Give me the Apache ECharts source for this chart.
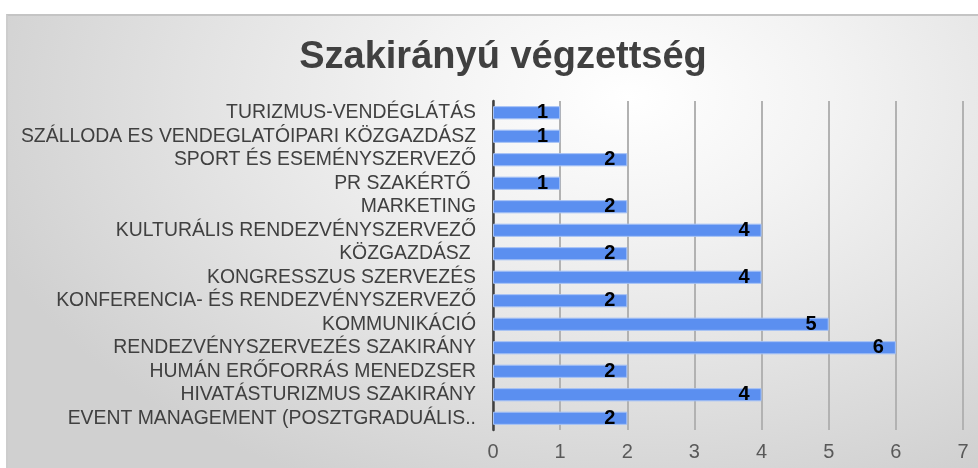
<!DOCTYPE html>
<html>
<head>
<meta charset="utf-8">
<script src="https://cdn.jsdelivr.net/npm/echarts@6/dist/echarts.min.js"></script>
<style>
  html, body { margin: 0; padding: 0; background: #ffffff; }
  #bg {
    position: absolute; left: 6px; top: 14px; width: 970px; height: 452px;
    border-top: 2px solid #c4c4c4; border-left: 2px solid #cdcdcd;
    background: radial-gradient(ellipse 70% 95% at 64% 18%, #ffffff 0%, #f3f3f3 30%, #e2e2e2 65%, #d0d0d0 100%);
  }
  #chart { position: absolute; left: 0; top: 0; width: 978px; height: 468px; }
</style>
</head>
<body>
<div id="bg"></div>
<div id="chart"></div>
<script>
// ==========================================================================
// Data (top to bottom as in the picture)
// ==========================================================================
var titleText = 'Szakirányú végzettség';

var categories = [
    'TURIZMUS-VENDÉGLÁTÁS',
    'SZÁLLODA ES VENDEGLATÓIPARI KÖZGAZDÁSZ',
    'SPORT ÉS ESEMÉNYSZERVEZŐ',
    'PR SZAKÉRTŐ ',
    'MARKETING',
    'KULTURÁLIS RENDEZVÉNYSZERVEZŐ',
    'KÖZGAZDÁSZ ',
    'KONGRESSZUS SZERVEZÉS',
    'KONFERENCIA- ÉS RENDEZVÉNYSZERVEZŐ',
    'KOMMUNIKÁCIÓ',
    'RENDEZVÉNYSZERVEZÉS SZAKIRÁNY',
    'HUMÁN ERŐFORRÁS MENEDZSER',
    'HIVATÁSTURIZMUS SZAKIRÁNY',
    'EVENT MANAGEMENT (POSZTGRADUÁLIS..'
];

var counts = [1, 1, 2, 1, 2, 4, 2, 4, 2, 5, 6, 2, 4, 2];

var axisMin = 0;
var axisMax = 7;
var axisStep = 1;

// ==========================================================================
// Chart
// ==========================================================================
var chart = echarts.init(document.getElementById('chart'));

var fontFamily = '"Liberation Sans", Arial, sans-serif';

chart.setOption({
    backgroundColor: 'transparent',
    animation: false,
    title: {
        text: titleText,
        left: 498,
        top: 34,
        textAlign: 'center',
        textStyle: {
            fontFamily: fontFamily,
            fontSize: 38,
            fontWeight: 'bold',
            color: '#404040'
        }
    },
    grid: {
        left: 493,
        right: 15,
        top: 101,
        bottom: 38,
        outerBoundsMode: 'none'
    },
    xAxis: {
        type: 'value',
        min: axisMin,
        max: axisMax,
        interval: axisStep,
        axisLine: { show: false },
        axisTick: { show: false },
        axisLabel: {
            margin: 12,
            fontFamily: fontFamily,
            fontSize: 20,
            color: '#595959'
        },
        splitLine: {
            lineStyle: { color: '#b2b2b2', width: 2 }
        }
    },
    yAxis: {
        type: 'category',
        inverse: true,
        data: categories,
        axisLine: {
            lineStyle: { color: '#404040', width: 2.5 }
        },
        axisTick: { show: false },
        axisLabel: {
            interval: 0,
            margin: 17,
            fontFamily: fontFamily,
            fontSize: 19.4,
            color: '#404040'
        }
    },
    series: [
        {
            type: 'bar',
            data: counts,
            barWidth: '56%',
            itemStyle: {
                color: '#5b8ff0',
                borderColor: '#a4c1f6',
                borderWidth: 1
            },
            label: {
                show: true,
                position: 'insideRight',
                distance: 12,
                fontFamily: fontFamily,
                fontSize: 20,
                fontWeight: 'bold',
                color: '#000000'
            }
        }
    ]
});
</script>
</body>
</html>
